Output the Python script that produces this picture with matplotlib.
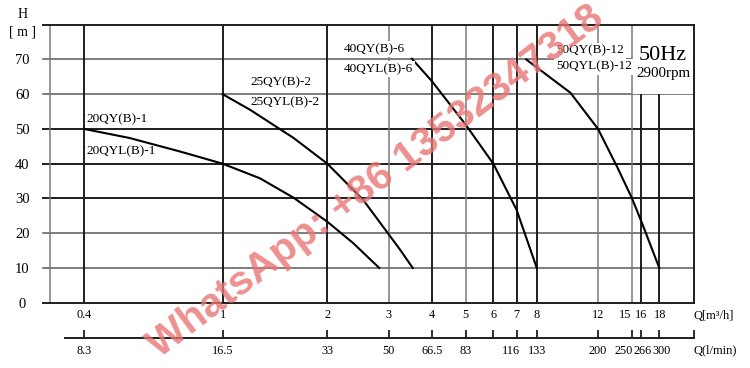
import matplotlib
matplotlib.use("Agg")
import matplotlib.pyplot as plt
from matplotlib.ticker import NullLocator
from matplotlib.patches import Rectangle
from matplotlib.transforms import ScaledTranslation

# ---------------- data ----------------
q_ticks = [0.4, 1, 2, 3, 4, 5, 6, 7, 8, 12, 15, 16, 18]
q_m3h_labels = ['0.4', '1', '2', '3', '4', '5', '6', '7', '8', '12', '15', '16', '18']
q_lmin_labels = ['8.3', '16.5', '33', '50', '66.5', '83', '', '116', '133', '200', '250', '266', '300']
dark_vlines = [0.4, 1, 2, 4, 6, 7, 8, 16, 18]
grey_vlines = [3, 5, 12, 15]
h_ticks = [0, 10, 20, 30, 40, 50, 60, 70]
dark_hlines = [0, 30, 40, 50, 80]
grey_hlines = [10, 20, 60, 70]

q_20qy1 = [0.4, 0.54, 0.755, 1, 1.28, 1.6, 2, 2.37, 2.82]
h_20qy1 = [50, 47.4, 43.5, 40, 35.8, 30.2, 23.3, 17.2, 10]
q_25qy2 = [1, 1.2, 1.6, 2, 2.535, 3.24, 3.52]
h_25qy2 = [60, 55.5, 47.4, 40, 29.6, 15.2, 10]
q_40qy6 = [3.5, 4, 5, 6, 7, 8]
h_40qy6 = [70.2, 63.7, 51.2, 40, 26.7, 10]
q_50qy12 = [7.46, 10, 12, 13.6, 15, 16, 18]
h_50qy12 = [70, 60.4, 50, 39.2, 30.2, 23.3, 10]

# ---------------- figure ----------------
W, H = 750, 368
fig = plt.figure(figsize=(W / 100, H / 100), dpi=100)
fig.patch.set_facecolor('white')
SERIF = 'Liberation Serif'
DARK = '#1e1e1e'
GREY = '#7a7a7a'

def fx(px):
    return px / W

def fy(py):
    return 1 - py / H

L, R, T, B = 50, 694, 24.7, 302.7
XMIN, XMAX = 0.319, 22.65
ax = fig.add_axes([fx(L), fy(B), fx(R) - fx(L), fy(T) - fy(B)])
ax.set_xscale('log')
ax.set_xlim(XMIN, XMAX)
ax.set_ylim(0, 80)
ax.xaxis.set_minor_locator(NullLocator())
for s in ['top', 'bottom']:
    ax.spines[s].set_visible(False)
ax.spines['left'].set_color(GREY)
ax.spines['left'].set_linewidth(1.1)
ax.spines['right'].set_color(DARK)
ax.spines['right'].set_linewidth(1.4)
ax.spines['right'].set_zorder(6)

ext = -7 / (R - L)
for y in dark_hlines:
    ax.axhline(y, xmin=ext, xmax=1, color=DARK, lw=1.4, clip_on=False, zorder=5 if y in (0, 80) else 2)
for y in grey_hlines:
    ax.axhline(y, xmin=ext, xmax=1, color='#5a5a5a', lw=1.1, clip_on=False, zorder=2)
for x in dark_vlines:
    ax.axvline(x, color=DARK, lw=1.4, zorder=2)
for x in grey_vlines:
    ax.axvline(x, color=GREY, lw=1.1, zorder=4 if x == 15 else 2)

# white box for the 50Hz legend area
ax.add_patch(Rectangle((15, 60), XMAX - 15, 20, facecolor='white', edgecolor='none', zorder=3))

# curves
for q, h in [(q_20qy1, h_20qy1), (q_25qy2, h_25qy2), (q_40qy6, h_40qy6), (q_50qy12, h_50qy12)]:
    ax.plot(q, h, color='black', lw=1.5, zorder=4, solid_joinstyle='round')

ax.set_yticks(h_ticks)
ax.set_yticklabels([str(v) for v in h_ticks], fontfamily=SERIF, fontsize=10.5)
ax.tick_params(axis='y', length=0, pad=19.8)
for lab in ax.get_yticklabels():
    lab.set_horizontalalignment('center')

XT_FS = 8.8
ax.set_xticks(q_ticks)
ax.set_xticklabels(q_m3h_labels, fontfamily=SERIF, fontsize=XT_FS)
ax.tick_params(axis='x', length=0, pad=4.8)

# secondary (l/min) axis
ax2 = fig.add_axes([fx(L), fy(337.7), fx(R) - fx(L), 0.05])
ax2.set_facecolor('none')
ax2.set_xscale('log')
ax2.set_xlim(XMIN, XMAX)
ax2.set_ylim(0, 1)
ax2.xaxis.set_minor_locator(NullLocator())
for s in ['top', 'left', 'right']:
    ax2.spines[s].set_visible(False)
ax2.spines['bottom'].set_bounds(0.352, XMAX)
ax2.spines['bottom'].set_color(DARK)
ax2.spines['bottom'].set_linewidth(1.4)
ax2.set_yticks([])
ax2.set_xticks(q_ticks + [XMAX])
ax2.set_xticklabels(q_lmin_labels + [''], fontfamily=SERIF, fontsize=XT_FS)
ax2.tick_params(axis='x', direction='in', length=5.5, width=1.3, color=DARK, pad=5.0)

# nudge crowded labels as in the reference
shift_top = {'15': -6.5, '18': 1.0}
shift_bot = {'116': -6.0, '250': -8.5, '266': 1.0, '300': 2.5}
for lab in ax.get_xticklabels():
    d = shift_top.get(lab.get_text())
    if d:
        lab.set_transform(lab.get_transform() + ScaledTranslation(d / 100, 0, fig.dpi_scale_trans))
for lab in ax2.get_xticklabels():
    d = shift_bot.get(lab.get_text())
    if d:
        lab.set_transform(lab.get_transform() + ScaledTranslation(d / 100, 0, fig.dpi_scale_trans))

# axis titles
fig.text(fx(693), fy(316), 'Q[m³/h]', ha='left', va='center', fontfamily=SERIF, fontsize=9)
fig.text(fx(693), fy(350), 'Q(l/min)', ha='left', va='center', fontfamily=SERIF, fontsize=9)
fig.text(fx(22.5), fy(15), 'H', ha='center', va='center', fontfamily=SERIF, fontsize=10)
fig.text(fx(22.5), fy(32), '[ m ]', ha='center', va='center', fontfamily=SERIF, fontsize=10)

# curve labels
lab_kw = dict(ha='left', va='center', fontfamily=SERIF, fontsize=9.5)
box = dict(facecolor='white', edgecolor='none', pad=1.5)
fig.text(fx(86.7), fy(119), '20QY(B)-1', **lab_kw)
fig.text(fx(86.7), fy(151.7), '20QYL(B)-1', **lab_kw)
fig.text(fx(250), fy(82.7), '25QY(B)-2', **lab_kw)
fig.text(fx(250), fy(102), '25QYL(B)-2', **lab_kw)
fig.text(fx(344), fy(49.3), '40QY(B)-6', bbox=box, **lab_kw)
fig.text(fx(344), fy(69.3), '40QYL(B)-6', bbox=box, **lab_kw)
fig.text(fx(556), fy(50.7), '50QY(B)-12', bbox=box, **lab_kw)
fig.text(fx(556), fy(66.7), '50QYL(B)-12', bbox=box, **lab_kw)
fig.text(fx(663), fy(55), '50Hz', ha='center', va='center', fontfamily=SERIF, fontsize=16)
fig.text(fx(663), fy(73), '2900rpm', ha='center', va='center', fontfamily=SERIF, fontsize=10.8)

# watermark
fig.text(fx(376), fy(182), 'WhatsApp: +86 13532347318', rotation=37, rotation_mode='anchor',
         ha='center', va='center', fontsize=29.5, fontweight='bold', fontfamily='Liberation Sans',
         color='#e87474', alpha=0.8, zorder=10)

fig.savefig('out.png', dpi=100)
